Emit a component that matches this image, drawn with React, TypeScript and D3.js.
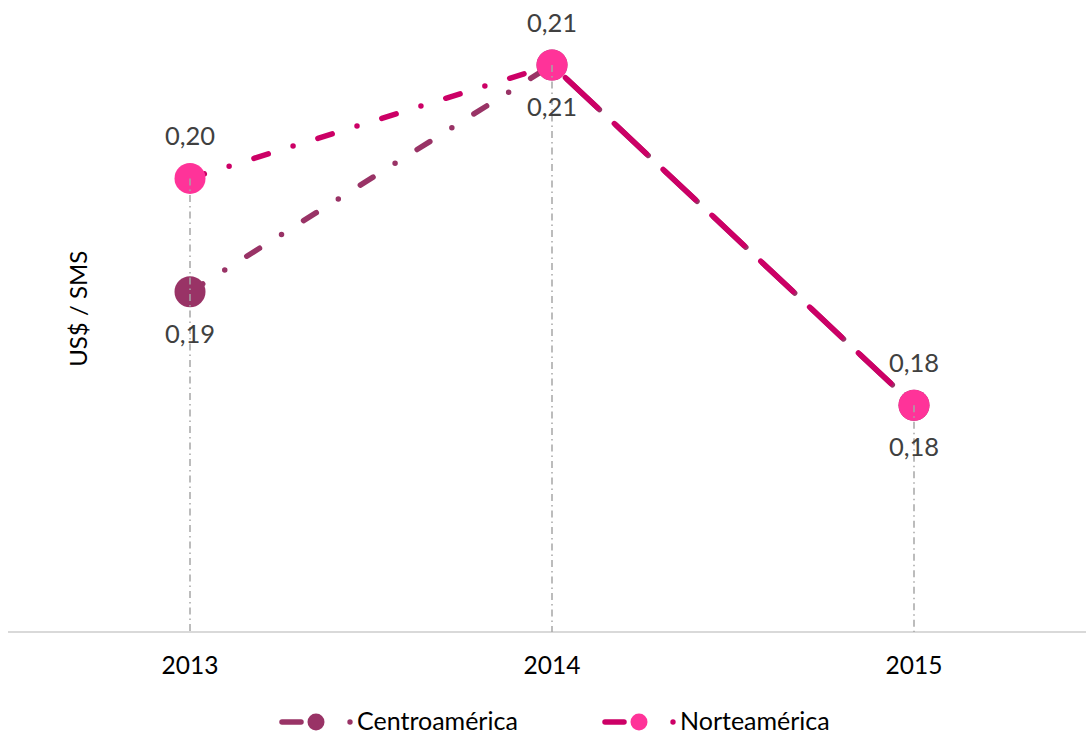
import React from "react";
import * as d3 from "d3";

const years = ["2013", "2014", "2015"];
const centroValues = [0.19, 0.21, 0.18];
const norteValues = [0.2, 0.21, 0.18];
const seriesNames = ["Centroamérica", "Norteamérica"];
const yDomain = [0.16, 0.21];
const yTitle = "US$ / SMS";

const W = 1086;
const H = 738;
const FONT = "Lato, 'Open Sans', sans-serif";

const series = [
  { name: seriesNames[0], values: centroValues, line: "#993366", marker: "#993366", labelPos: "below" },
  { name: seriesNames[1], values: norteValues, line: "#cc0066", marker: "#ff3399", labelPos: "above" },
];

const fmt = (v: number) => d3.format(".2f")(v).replace(".", ",");

export default function App() {
  const x = d3.scalePoint<string>().domain(years).range([9, 1095]).padding(0.5);
  const y = d3.scaleLinear().domain(yDomain).range([632, 65]);
  const axisY = y(yDomain[0]);
  const line = d3.line<[number, number]>().x((d) => d[0]).y((d) => d[1]);

  return (
    <svg width={W} height={H} style={{ position: "absolute", left: 0, top: 0, background: "#fff" }}>
      {/* axis line */}
      <line x1={8} x2={W} y1={axisY} y2={axisY} stroke="#d9d9d9" strokeWidth={2} />
      {/* x labels */}
      {years.map((yr) => (
        <text key={yr} x={x(yr)} y={axisY + 42} textAnchor="middle" fontFamily={FONT} fontSize={24.5} fill="#000">
          {yr}
        </text>
      ))}
      {/* y title */}
      <text
        transform={`translate(87,${y(0.1885)}) rotate(-90)`}
        textAnchor="middle"
        fontFamily={FONT}
        fontSize={24}
        fill="#000"
      >
        {yTitle}
      </text>
      {/* series lines, per segment */}
      {series.map((s) =>
        years.slice(0, -1).map((yr, i) => {
          const p0: [number, number] = [x(yr)!, y(s.values[i])];
          const p1: [number, number] = [x(years[i + 1])!, y(s.values[i + 1])];
          const rising = s.values[i + 1] >= s.values[i];
          return (
            <path
              key={s.name + yr}
              d={line([p0, p1]) || ""}
              fill="none"
              stroke={s.line}
              strokeWidth={5.5}
              strokeLinecap="round"
              strokeDasharray={rising ? "15,26,0,26" : "44,23"}
              strokeDashoffset={rising ? 0 : s.labelPos === "below" ? 46 : 48.5}
            />
          );
        })
      )}
      {/* markers */}
      {series.map((s) =>
        s.values.map((v, i) => (
          <circle key={s.name + i} cx={x(years[i])} cy={y(v)} r={15.5} fill={s.marker} />
        ))
      )}
      {/* drop lines */}
      {years.map((yr, i) => {
        const top = Math.max(...series.map((s) => s.values[i]));
        return (
          <line
            key={"drop" + yr}
            x1={x(yr)}
            x2={x(yr)}
            y1={y(top)}
            y2={axisY}
            stroke="#a6a6a6"
            strokeWidth={1.5}
            strokeDasharray="7,4,1.5,4"
          />
        );
      })}
      {/* data labels */}
      {series.map((s) =>
        s.values.map((v, i) => (
          <text
            key={"lbl" + s.name + i}
            x={x(years[i])}
            y={s.labelPos === "above" ? y(v) - 33 : y(v) + 51}
            textAnchor="middle"
            fontFamily={FONT}
            fontSize={25.5}
            fill="#404040"
          >
            {fmt(v)}
          </text>
        ))
      )}
      {/* legend */}
      {series.map((s, k) => {
        const lx = k === 0 ? 282 : 605;
        const cy = 722;
        return (
          <g key={"leg" + k}>
            <line x1={lx} x2={lx + 19} y1={cy} y2={cy} stroke={s.line} strokeWidth={5.5} strokeLinecap="round" />
            <circle cx={lx + 34} cy={cy} r={8.5} fill={s.marker} />
            <circle cx={lx + 68} cy={cy} r={2.7} fill={s.line} />
            <text x={lx + 75} y={cy + 8} fontFamily={FONT} fontSize={25} fill="#000">
              {s.name}
            </text>
          </g>
        );
      })}
    </svg>
  );
}
